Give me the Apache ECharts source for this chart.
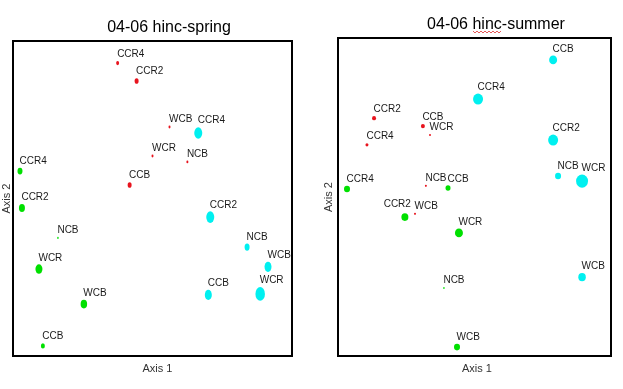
<!DOCTYPE html>
<html>
<head>
<meta charset="utf-8">
<script src="https://cdn.jsdelivr.net/npm/echarts@6/dist/echarts.min.js"></script>
<style>html,body{margin:0;padding:0;background:#fff}#c{width:623px;height:389px}</style>
</head>
<body>
<div id="c"></div>
<script>
// ---- Data (ordination scores, Axis 1 / Axis 2 in 0-100 units, abundance) ----
const springTitle = '04-06 hinc-spring';
const summerTitle = '04-06 hinc-summer';

const springRedNames   = ['CCR4','CCR2','WCB','WCR','NCB','CCB'];
const springRedPts     = [[37.5,93.0],[44.3,87.3],[56.1,72.7],[50.0,63.5],[62.5,61.6],[41.8,54.3]];
const springRedAbund   = [3,4,2,2,2,4];

const springCyanNames  = ['CCR4','CCR2','NCB','WCB','CCB','WCR'];
const springCyanPts    = [[66.4,70.8],[70.7,44.1],[83.9,34.6],[91.4,28.3],[70.0,19.4],[88.6,19.7]];
const springCyanAbund  = [8,8,5,7,7,9.5];

const springGreenNames = ['CCR4','CCR2','NCB','WCR','WCB','CCB'];
const springGreenPts   = [[2.5,58.7],[3.2,47.0],[16.1,37.5],[9.3,27.6],[25.4,16.5],[10.7,3.2]];
const springGreenAbund = [5,6,1.5,7,6.5,4];

const summerRedNames   = ['CCR2','CCB','WCR','CCR4','NCB','WCB'];
const summerRedPts     = [[13.2,74.8],[31.1,72.3],[33.7,69.5],[10.6,66.4],[32.2,53.5],[28.2,44.7]];
const summerRedAbund   = [4,4,2,3,2,2];

const summerCyanNames  = ['CCB','CCR4','CCR2','NCB','WCR','WCB'];
const summerCyanPts    = [[78.8,93.1],[51.3,80.8],[78.8,67.9],[80.6,56.6],[89.4,55.0],[89.4,24.8]];
const summerCyanAbund  = [8,10,10,6,12,7.5];

const summerGreenNames = ['CCR4','CCB','CCR2','WCR','NCB','WCB'];
const summerGreenPts   = [[3.3,52.5],[40.3,52.8],[24.5,43.7],[44.3,38.7],[38.8,21.4],[43.6,2.8]];
const summerGreenAbund = [6,5,7,8,1.5,6];

// ---- Styling ----
const RED = '#e8141e', CYAN = '#00f0f0', GREEN = '#00e000';
const FONT = '"Liberation Sans", Arial, sans-serif';

function makeSeries(names, pts, abund, color, gridIdx, aspect, leftLabel) {
  return {
    type: 'scatter',
    xAxisIndex: gridIdx, yAxisIndex: gridIdx,
    silent: true,
    itemStyle: { color: color, opacity: 1 },
    data: pts.map((p, i) => {
      const w = abund[i];
      const h = Math.max(w * aspect, 2);
      const left = leftLabel && leftLabel.indexOf(names[i]) >= 0;
      return {
        value: p,
        symbolSize: [w, h],
        label: {
          show: true,
          formatter: names[i],
          position: left ? [w / 2 + 6, -9] : [w / 2 - 0.5, -6.5],
          align: left ? 'right' : 'left',
          verticalAlign: 'middle',
          color: '#1a1a1a',
          fontSize: 10,
          fontFamily: FONT
        }
      };
    })
  };
}

function axisPair(gridIdx, nameGapY, padX) {
  const base = { gridIndex: gridIdx, min: 0, max: 100, axisLine: {show:false}, axisTick:{show:false}, axisLabel:{show:false}, splitLine:{show:false} };
  return [
    Object.assign({}, base, { type: 'value', name: 'Axis 1', nameLocation: 'middle', nameGap: 7,
      nameTextStyle: { color: '#333', fontSize: 11, fontFamily: FONT, padding: padX } }),
    Object.assign({}, base, { type: 'value', name: 'Axis 2', nameLocation: 'middle', nameGap: nameGapY,
      nameTextStyle: { color: '#333', fontSize: 11, fontFamily: FONT } })
  ];
}

const ax0 = axisPair(0, 1, [0,0,0,10]);
const ax1 = axisPair(1, 4, [0,0,0,5]);

// wavy "spell-check" underline under "hinc"
const wave = [];
for (let x = 473, k = 0; x <= 502; x += 2, k++) wave.push([x, 32 + (k % 2 ? 1 : -1)]);

const option = {
  backgroundColor: '#fff',
  animation: false,
  grid: [
    { left: 12, top: 41, width: 280, height: 315, show: true, borderColor: '#000', borderWidth: 2, backgroundColor: '#fff' },
    { left: 338, top: 38, width: 273, height: 318, show: true, borderColor: '#000', borderWidth: 2, backgroundColor: '#fff' }
  ],
  xAxis: [ax0[0], ax1[0]],
  yAxis: [ax0[1], ax1[1]],
  graphic: [
    { type: 'text', x: 169, y: 28, style: { text: springTitle, textAlign: 'center', textVerticalAlign: 'middle', font: '16px ' + FONT, fill: '#000' } },
    { type: 'text', x: 496, y: 25, style: { text: summerTitle, textAlign: 'center', textVerticalAlign: 'middle', font: '16px ' + FONT, fill: '#000' } },
    { type: 'polyline', shape: { points: wave }, style: { stroke: '#e03030', lineWidth: 0.8, fill: null } }
  ],
  series: [
    makeSeries(springRedNames, springRedPts, springRedAbund, RED, 0, 1.4),
    makeSeries(springCyanNames, springCyanPts, springCyanAbund, CYAN, 0, 1.45),
    makeSeries(springGreenNames, springGreenPts, springGreenAbund, GREEN, 0, 1.35),
    makeSeries(summerRedNames, summerRedPts, summerRedAbund, RED, 1, 1.1),
    makeSeries(summerCyanNames, summerCyanPts, summerCyanAbund, CYAN, 1, 1.1),
    makeSeries(summerGreenNames, summerGreenPts, summerGreenAbund, GREEN, 1, 1.1, ['CCR2'])
  ]
};

const chart = echarts.init(document.getElementById('c'), null, { renderer: 'canvas' });
chart.setOption(option);
</script>
</body>
</html>
